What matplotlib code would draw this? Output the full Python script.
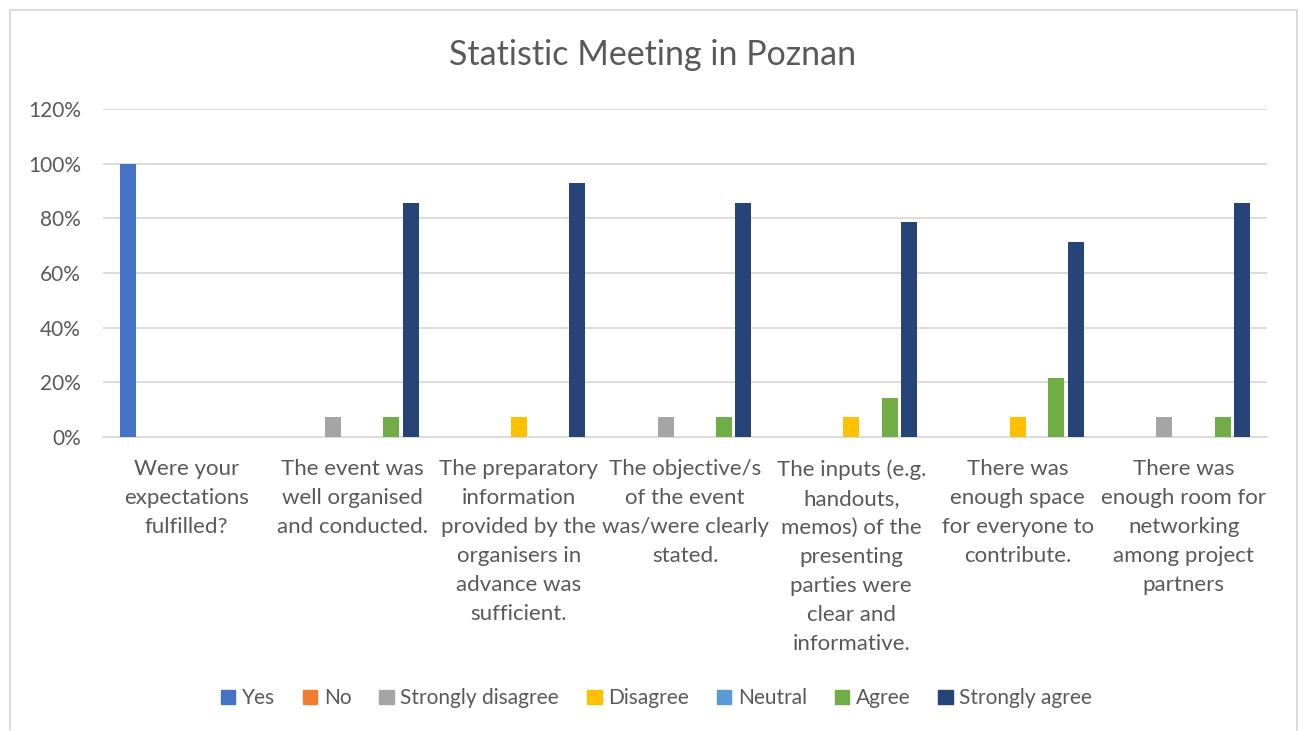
import numpy as np
import matplotlib
matplotlib.use("Agg")
import matplotlib.pyplot as plt
from matplotlib.patches import Rectangle

plt.rcParams["font.family"] = ["Lato", "DejaVu Sans"]

questions = [
    "Were your\nexpectations\nfulfilled?",
    "The event was\nwell organised\nand conducted.",
    "The preparatory\ninformation\nprovided by the\norganisers in\nadvance was\nsufficient.",
    "The objective/s\nof the event\nwas/were clearly\nstated.",
    "The inputs (e.g.\nhandouts,\nmemos) of the\npresenting\nparties were\nclear and\ninformative.",
    "There was\nenough space\nfor everyone to\ncontribute.",
    "There was\nenough room for\nnetworking\namong project\npartners",
]
series_names = ["Yes", "No", "Strongly disagree", "Disagree", "Neutral", "Agree", "Strongly agree"]
series_colors = ["#4472C4", "#ED7D31", "#A5A5A5", "#FFC000", "#5B9BD5", "#70AD47", "#264478"]

# shares per question, in percent
yes = [100, 0, 0, 0, 0, 0, 0]
no = [0, 0, 0, 0, 0, 0, 0]
strongly_disagree = [0, 7.14, 0, 7.14, 0, 0, 7.14]
disagree = [0, 0, 7.14, 0, 7.14, 7.14, 0]
neutral = [0, 0, 0, 0, 0, 0, 0]
agree = [0, 7.14, 0, 7.14, 14.29, 21.43, 7.14]
strongly_agree = [0, 85.71, 92.86, 85.71, 78.57, 71.43, 85.71]
series_values = [yes, no, strongly_disagree, disagree, neutral, agree, strongly_agree]

fig = plt.figure(figsize=(13, 7.31), dpi=100)
ax = fig.add_axes([103 / 1300, 1 - 437 / 731, (1267 - 103) / 1300, (437 - 109) / 731])

x = np.arange(len(questions))
step = 0.1166
width = 0.096
for i, (name, vals, col) in enumerate(zip(series_names, series_values, series_colors)):
    ax.bar(x + (i - 3) * step, vals, width=width, color=col, label=name, zorder=3)

ax.set_xlim(-0.5, len(questions) - 0.5)
ax.set_ylim(0, 120)
ax.set_yticks(np.arange(0, 121, 20))
ax.set_yticklabels([f"{v}%" for v in range(0, 121, 20)])
ax.yaxis.grid(True, color="#D9D9D9", linewidth=1.3, zorder=0)
for s in ["top", "right", "left"]:
    ax.spines[s].set_visible(False)
ax.spines["bottom"].set_color("#D9D9D9")
ax.spines["bottom"].set_linewidth(1.3)
ax.tick_params(axis="y", length=0, labelsize=15, labelcolor="#595959", pad=16)
ax.set_xticks(x)
ax.set_xticklabels(questions, fontsize=16, color="#595959", linespacing=1.56, va="top")
ax.tick_params(axis="x", length=0, pad=16)

fig.text(0.502, 0.925, "Statistic Meeting in Poznan", ha="center", va="center",
         fontsize=24.5, color="#595959")

handles = [Rectangle((0, 0), 1, 1, color=c) for c in series_colors]
fig.legend(handles, series_names, loc="center", bbox_to_anchor=(0.505, 0.045), ncol=7,
           frameon=False, fontsize=15, handlelength=0.7, handleheight=0.7,
           handletextpad=0.3, columnspacing=1.35, labelcolor="#595959")

# chart frame
fig.add_artist(Rectangle((10 / 1300, -0.01), 1287 / 1300, 1 - 10 / 731 + 0.01,
                         transform=fig.transFigure, fill=False, edgecolor="#D9D9D9",
                         linewidth=1.3))

fig.savefig("out.png", dpi=100)
